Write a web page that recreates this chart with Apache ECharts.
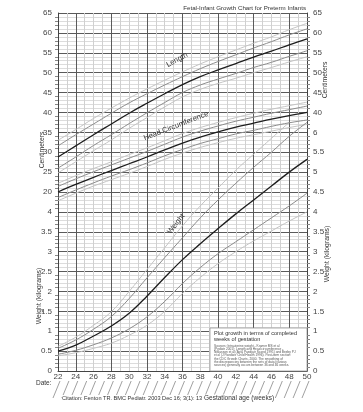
<!DOCTYPE html>
<html><head><meta charset="utf-8">
<script src="https://cdn.jsdelivr.net/npm/echarts@6/dist/echarts.min.js"></script>
<style>html,body{margin:0;padding:0;background:#fff}#c{width:363px;height:412px}</style>
</head><body><div id="c"></div>
<script>
// Gestational age (weeks)
const weeks = [22,24,26,28,30,32,34,36,38,40,42,44,46,48,50];
// Length (cm)
const lengthP97 = [33.0,35.7,38.5,41.1,43.6,45.9,48.1,50.2,52.2,54.0,55.7,57.4,59.0,60.8,62.4];
const lengthP90 = [31.6,34.4,37.1,39.8,42.4,44.7,46.9,49.0,51.0,52.8,54.5,56.2,57.8,59.5,61.0];
const lengthP50 = [28.8,31.6,34.4,37.1,39.8,42.3,44.7,47.0,49.0,50.7,52.3,53.9,55.4,57.0,58.5];
const lengthP10 = [26.0,28.8,31.7,34.4,37.2,39.9,42.5,45.0,46.9,48.4,49.8,51.3,52.6,54.1,55.5];
const lengthP3  = [24.8,27.6,30.4,33.1,36.0,38.7,41.4,43.9,45.8,47.3,48.6,50.0,51.3,52.7,54.0];
// Head circumference (cm)
const headP97 = [22.2,24.1,25.9,27.6,29.4,31.1,32.9,34.7,36.2,37.5,38.7,39.8,40.8,41.7,42.6];
const headP90 = [21.4,23.3,25.1,26.8,28.5,30.2,32.0,33.8,35.3,36.6,37.8,38.8,39.8,40.7,41.6];
const headP50 = [20.0,21.9,23.7,25.4,27.1,28.8,30.6,32.3,33.8,35.1,36.3,37.3,38.3,39.2,40.0];
const headP10 = [18.6,20.5,22.3,24.0,25.6,27.3,29.1,30.7,32.2,33.4,34.6,35.5,36.5,37.4,38.1];
const headP3  = [17.8,19.7,21.5,23.1,24.7,26.4,28.2,29.8,31.2,32.4,33.5,34.4,35.3,36.2,37.0];
// Weight (kg)
const weightP97 = [0.62,0.85,1.15,1.49,2.00,2.55,3.10,3.65,4.15,4.60,5.05,5.45,5.85,6.25,null];
const weightP90 = [0.57,0.78,1.05,1.37,1.82,2.34,2.85,3.35,3.85,4.30,4.72,5.12,5.50,5.90,6.25];
const weightP50 = [0.50,0.65,0.88,1.13,1.45,1.88,2.35,2.80,3.20,3.58,3.95,4.30,4.65,5.00,5.32];
const weightP10 = [0.42,0.52,0.66,0.83,1.06,1.36,1.75,2.20,2.60,2.95,3.25,3.55,3.85,4.15,4.47];
const weightP3  = [0.38,0.46,0.57,0.70,0.90,1.15,1.50,1.95,2.35,2.70,3.00,3.27,3.52,3.77,4.00];
// Tick labels (one per grid step of the shared axis)
const leftTicks  = ['0','0.5','1','1.5','2','2.5','3','3.5','4','20','25','30','35','40','45','50','55','60','65'];
const rightTicks = ['0','0.5','1','1.5','2','2.5','3','3.5','4','4.5','5','5.5','6','40','45','50','55','60','65'];

const FF = 'Liberation Sans, Arial, sans-serif';
// shared axis: cm -> c/5+5 ; kg -> 2*kg
const cm = c => c / 5 + 5;
const kg = k => 2 * k;
const C50 = '#1e1e1e', C10 = '#8c8c8c', C3 = '#c4c4c4';

function mk(arr, conv, color, width) {
  const data = [];
  weeks.forEach((w, i) => { if (arr[i] != null) data.push([w, conv(arr[i])]); });
  return { type: 'line', data, smooth: 0.4, symbol: 'none', silent: true,
    lineStyle: { color, width }, z: color === C50 ? 5 : (color === C10 ? 4 : 3) };
}

const chart = echarts.init(document.getElementById('c'), null, { renderer: 'canvas' });
const dark = '#5a5a5a', light = '#d0d0d0';
chart.setOption({
  animation: false,
  grid: { left: 58, right: 56, top: 13, bottom: 41 },
  xAxis: {
    type: 'value', min: 22, max: 50, interval: 1,
    axisLine: { show: true, lineStyle: { color: '#444', width: 1 } },
    axisTick: { show: false },
    axisLabel: { formatter: v => (v % 2 === 0 ? String(v) : ''), fontSize: 8, color: '#444', margin: 2, fontFamily: FF },
    splitLine: { show: true, lineStyle: { color: [light, light, dark, light], width: 1 } }
  },
  yAxis: [
    { type: 'value', position: 'left', min: 0, max: 18, interval: 1,
      axisLine: { show: true, lineStyle: { color: '#444' } },
      axisTick: { show: false },
      minorTick: { show: true, splitNumber: 5, length: 3, lineStyle: { color: '#888' } },
      axisLabel: { formatter: v => leftTicks[v] || '', fontSize: 8, color: '#444', margin: 6, fontFamily: FF },
      splitLine: { show: true, lineStyle: { color: dark, width: 1 } },
      minorSplitLine: { show: true, lineStyle: { color: '#dcdcdc', width: 1 } } },
    { type: 'value', position: 'right', min: 0, max: 18, interval: 1,
      axisLine: { show: true, lineStyle: { color: '#444' } },
      axisTick: { show: false },
      minorTick: { show: true, splitNumber: 5, length: 3, lineStyle: { color: '#888' } },
      axisLabel: { formatter: v => rightTicks[v] || '', fontSize: 8, color: '#444', margin: 6, fontFamily: FF },
      splitLine: { show: false } }
  ],
  series: [
    mk(lengthP97, cm, C3, 1), mk(lengthP90, cm, C10, 1), mk(lengthP50, cm, C50, 1.3), mk(lengthP10, cm, C10, 1), mk(lengthP3, cm, C3, 1),
    mk(headP97, cm, C3, 1), mk(headP90, cm, C10, 1), mk(headP50, cm, C50, 1.3), mk(headP10, cm, C10, 1), mk(headP3, cm, C3, 1),
    mk(weightP97, kg, C3, 1), mk(weightP90, kg, C10, 1), mk(weightP50, kg, C50, 1.3), mk(weightP10, kg, C10, 1), mk(weightP3, kg, C3, 1)
  ]
});

// Decorative elements
const g = [];
const px = (w, v) => chart.convertToPixel({ xAxisIndex: 0, yAxisIndex: 0 }, [w, v]);
for (let w = 22; w <= 50; w++) {
  const p = px(w, 0);
  g.push({ type: 'line', silent: true, shape: { x1: p[0] + 2, y1: p[1] + 10, x2: p[0] - 5, y2: p[1] + 27 },
    style: { stroke: '#888', lineWidth: 0.8 } });
}
const txt = (x, y, text, size, opts) => Object.assign({ type: 'text', x, y, silent: true, z: 10,
  style: Object.assign({ text, fontSize: size, fontFamily: FF, fill: '#333' }, (opts && opts.style) || {}) }, (opts && opts.el) || {});
g.push(txt(306, 8, 'Fetal-Infant Growth Chart for Preterm Infants', 6.2, { style: { align: 'right', verticalAlign: 'middle' } }));
g.push(txt(42, 150, 'Centimeters', 6.8, { style: { align: 'center', verticalAlign: 'middle' }, el: { rotation: Math.PI / 2 } }));
g.push(txt(39, 296, 'Weight (kilograms)', 6.8, { style: { align: 'center', verticalAlign: 'middle' }, el: { rotation: Math.PI / 2 } }));
g.push(txt(325, 80, 'Centimeters', 6.8, { style: { align: 'center', verticalAlign: 'middle' }, el: { rotation: Math.PI / 2 } }));
g.push(txt(327, 254, 'Weight (kilograms)', 6.8, { style: { align: 'center', verticalAlign: 'middle' }, el: { rotation: Math.PI / 2 } }));
g.push(txt(36, 383, 'Date:', 6.5, { style: { verticalAlign: 'middle' } }));
g.push(txt(62, 398, 'Citation: Fenton TR. BMC Pediatr. 2003 Dec 16; 3(1): 13', 5.6, { style: { verticalAlign: 'middle', backgroundColor: '#fff' } }));
g.push(txt(204, 398, 'Gestational age (weeks)', 6.5, { style: { verticalAlign: 'middle', backgroundColor: '#fff' } }));
g.push(txt(177, 60, 'Length', 7.5, { style: { align: 'center', verticalAlign: 'middle' }, el: { rotation: 0.5 } }));
g.push(txt(176, 126, 'Head Circumference', 7.5, { style: { align: 'center', verticalAlign: 'middle' }, el: { rotation: 0.37 } }));
g.push(txt(176, 224, 'Weight', 7.5, { style: { align: 'center', verticalAlign: 'middle' }, el: { rotation: 0.9 } }));
g.push({ type: 'rect', silent: true, z: 9, shape: { x: 210, y: 328, width: 97, height: 43 },
  style: { fill: '#fff', stroke: '#999', lineWidth: 0.8 } });
g.push(txt(214, 330, 'Plot growth in terms of completed\nweeks of gestation', 5.6, { style: { lineHeight: 6.5 } }));
g.push(txt(214, 344, 'Sources: Intrauterine weight - Kramer MS et al\n(Pediatr 2001); Length and Head circumference -\nNiklasson et al (Acta Paediatr Scand 1991) and Beeby PJ\net al (J Paediatr Child Health 1996). Post-term section:\nthe CDC Growth Charts, 2000. The smoothing of\nthe discrepancies between the sets of data (various\nsources) generally occurs between 36 and 46 weeks.', 3.2, { style: { lineHeight: 3.3, fill: '#555' } }));
chart.setOption({ graphic: g });
</script>
</body></html>
